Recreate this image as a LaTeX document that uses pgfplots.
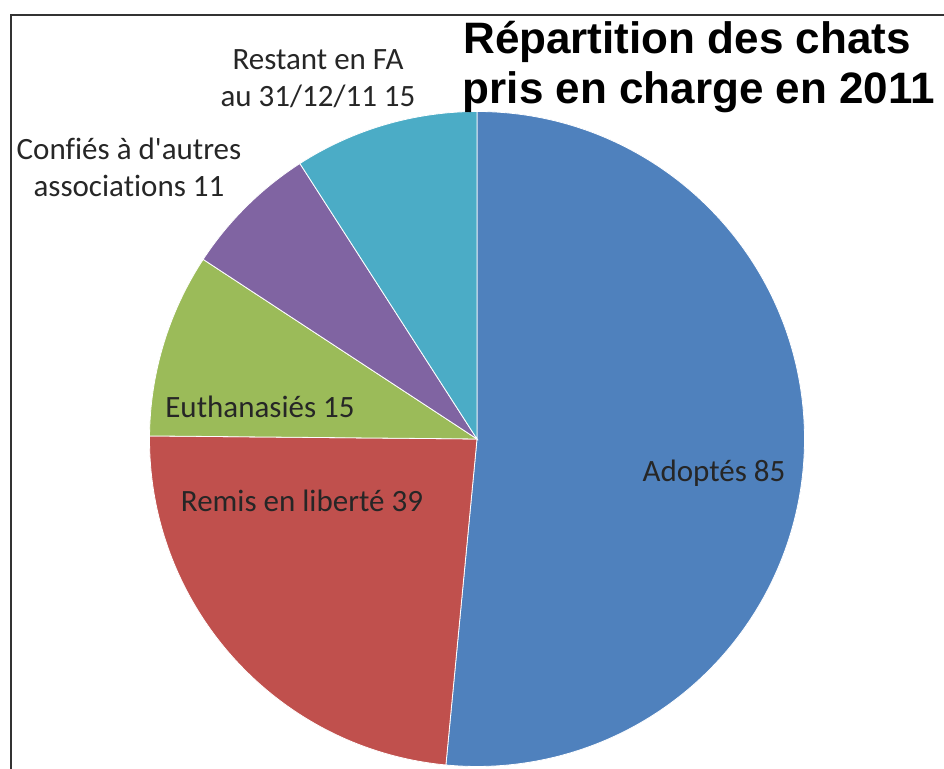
\documentclass[border=0pt]{standalone}
\usepackage{pgfplots}
\usepackage{pgfplotstable}
\pgfplotsset{compat=1.18}
\usepackage{fontspec}
\setmainfont{Carlito}[Ligatures={NoCommon}]
\newfontfamily\titlefont{Liberation Sans}
\definecolor{cAdopt}{HTML}{4F81BD}
\definecolor{cRemis}{HTML}{C0504D}
\definecolor{cEuth}{HTML}{9BBB59}
\definecolor{cConf}{HTML}{8064A2}
\definecolor{cRest}{HTML}{4BACC6}
\definecolor{txt}{HTML}{262626}
\definecolor{frame}{HTML}{333333}

\pgfplotstableread{
value color
85 cAdopt
39 cRemis
15 cEuth
11 cConf
15 cRest
}\piedata

\begin{document}
\begin{tikzpicture}
% total of the values
\def\total{0}
\pgfplotsforeachungrouped \i in {0,...,4}{%
  \pgfplotstablegetelem{\i}{value}\of\piedata
  \pgfmathsetmacro\t{\total+\pgfplotsretval}%
  \global\let\total\t
}
\begin{axis}[
  scale only axis, width=472pt, height=384.5pt,
  xmin=0, xmax=944, ymin=0, ymax=769,
  hide axis, clip=false,
]
\def\cur{90}
\pgfplotsforeachungrouped \i in {0,...,4}{%
  \pgfplotstablegetelem{\i}{value}\of\piedata \let\v\pgfplotsretval
  \pgfplotstablegetelem{\i}{color}\of\piedata \let\c\pgfplotsretval
  \pgfmathsetmacro\nxt{\cur-\v/\total*360}%
  \edef\temp{\noexpand\fill[\c, draw=white, line width=0.4pt]
    (axis cs:477,330) -- ++(\cur:163.75pt)
    arc[start angle=\cur, end angle=\nxt, radius=163.75pt] -- cycle;}%
  \temp
  \global\let\cur\nxt
}
% frame
\draw[frame, line width=1.1pt] (axis cs:11,0) -- (axis cs:11,754) -- (axis cs:944,754);
% title
\node[anchor=base, font=\titlefont\bfseries\fontsize{22}{26}\selectfont, text=black, inner sep=0]
  at (axis cs:687,715) {Répartition des chats};
\node[anchor=base, font=\titlefont\bfseries\fontsize{22}{26}\selectfont, text=black, inner sep=0]
  at (axis cs:699,665) {pris en charge en 2011};
% labels
\tikzset{lab/.style={anchor=base, inner sep=0, text=txt, font=\fontsize{15.5}{18}\selectfont}}
\node[lab] at (axis cs:318,699) {Restant en FA};
\node[lab] at (axis cs:318,662) {au 31/12/11 15};
\node[lab] at (axis cs:129,609) {Confiés à d\textquotesingle autres};
\node[lab] at (axis cs:129,572) {associations 11};
\node[lab] at (axis cs:260,351) {Euthanasiés 15};
\node[lab] at (axis cs:302,257) {Remis en liberté 39};
\node[lab] at (axis cs:714,287) {Adoptés 85};
\end{axis}
\pgfresetboundingbox
\useasboundingbox (0,0) rectangle (472pt,384.5pt);
\end{tikzpicture}
\end{document}
